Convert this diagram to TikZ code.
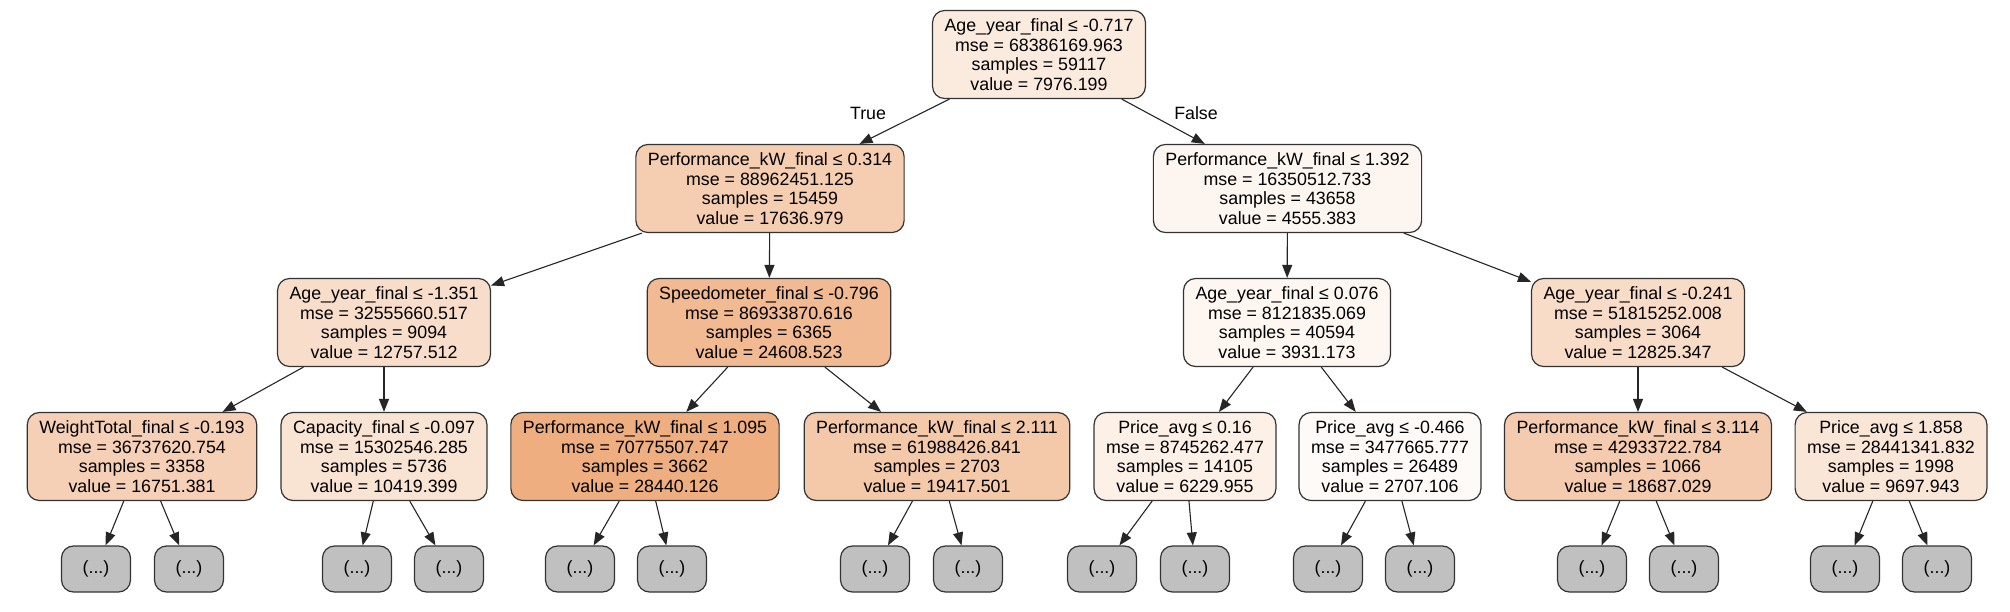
\documentclass[tikz,border=0pt]{standalone}
\usepackage{fontspec}
\setmainfont{Liberation Sans}
\usetikzlibrary{arrows.meta}
\definecolor{base}{RGB}{229,129,57}
\definecolor{leafgray}{RGB}{192,192,192}
\tikzset{
  tnode/.style={draw=black!80, line width=1.2pt, rounded corners=12pt, align=center,
    inner xsep=12pt, inner ysep=0pt, minimum height=88pt,
    font=\fontsize{17.8}{19.7}\selectfont},
  leaf/.style={draw=black!80, line width=1.2pt, rounded corners=12pt, fill=leafgray,
    minimum width=69pt, minimum height=46pt, inner sep=0pt,
    font=\fontsize{17.8}{19.7}\selectfont},
  edge/.style={line width=1.1pt, black!85, -{Triangle[length=13pt,width=10pt]}},
  elabel/.style={font=\fontsize{17.8}{19.7}\selectfont, inner sep=0pt}
}
\begin{document}
\begin{tikzpicture}[x=1pt,y=-1pt]
\useasboundingbox (0,0) rectangle (2010,612);
\fill[white] (0,0) rectangle (2010,612);
% level 0
\node[tnode, fill=base!16!white] (r) at (1039,54.5) {Age\_year\_final ≤ -0.717\\mse = 68386169.963\\samples = 59117\\value = 7976.199};
% level 1
\node[tnode, fill=base!39!white] (a) at (770,188.5) {Performance\_kW\_final ≤ 0.314\\mse = 88962451.125\\samples = 15459\\value = 17636.979};
\node[tnode, fill=base!8!white] (b) at (1287.5,188.5) {Performance\_kW\_final ≤ 1.392\\mse = 16350512.733\\samples = 43658\\value = 4555.383};
% level 2
\node[tnode, fill=base!27!white] (aa) at (384,322.5) {Age\_year\_final ≤ -1.351\\mse = 32555660.517\\samples = 9094\\value = 12757.512};
\node[tnode, fill=base!55!white] (ab) at (769,322.5) {Speedometer\_final ≤ -0.796\\mse = 86933870.616\\samples = 6365\\value = 24608.523};
\node[tnode, fill=base!7!white] (ba) at (1287,322.5) {Age\_year\_final ≤ 0.076\\mse = 8121835.069\\samples = 40594\\value = 3931.173};
\node[tnode, fill=base!28!white] (bb) at (1638,322.5) {Age\_year\_final ≤ -0.241\\mse = 51815252.008\\samples = 3064\\value = 12825.347};
% level 3
\node[tnode, fill=base!37!white] (aaa) at (142,456.5) {WeightTotal\_final ≤ -0.193\\mse = 36737620.754\\samples = 3358\\value = 16751.381};
\node[tnode, fill=base!22!white] (aab) at (384,456.5) {Capacity\_final ≤ -0.097\\mse = 15302546.285\\samples = 5736\\value = 10419.399};
\node[tnode, fill=base!64!white] (aba) at (645,456.5) {Performance\_kW\_final ≤ 1.095\\mse = 70775507.747\\samples = 3662\\value = 28440.126};
\node[tnode, fill=base!43!white] (abb) at (937,456.5) {Performance\_kW\_final ≤ 2.111\\mse = 61988426.841\\samples = 2703\\value = 19417.501};
\node[tnode, fill=base!12!white] (baa) at (1185,456.5) {Price\_avg ≤ 0.16\\mse = 8745262.477\\samples = 14105\\value = 6229.955};
\node[tnode, fill=base!4!white] (bab) at (1390,456.5) {Price\_avg ≤ -0.466\\mse = 3477665.777\\samples = 26489\\value = 2707.106};
\node[tnode, fill=base!41!white] (bba) at (1638,456.5) {Performance\_kW\_final ≤ 3.114\\mse = 42933722.784\\samples = 1066\\value = 18687.029};
\node[tnode, fill=base!20!white] (bbb) at (1891,456.5) {Price\_avg ≤ 1.858\\mse = 28441341.832\\samples = 1998\\value = 9697.943};
% leaves
\node[leaf] (l1) at (96,569) {(...)};
\node[leaf] (l2) at (189,569) {(...)};
\node[leaf] (l3) at (357,569) {(...)};
\node[leaf] (l4) at (449,569) {(...)};
\node[leaf] (l5) at (580,569) {(...)};
\node[leaf] (l6) at (672,569) {(...)};
\node[leaf] (l7) at (875,569) {(...)};
\node[leaf] (l8) at (968,569) {(...)};
\node[leaf] (l9) at (1102,569) {(...)};
\node[leaf] (l10) at (1195,569) {(...)};
\node[leaf] (l11) at (1328,569) {(...)};
\node[leaf] (l12) at (1420,569) {(...)};
\node[leaf] (l13) at (1592,569) {(...)};
\node[leaf] (l14) at (1684,569) {(...)};
\node[leaf] (l15) at (1845,569) {(...)};
\node[leaf] (l16) at (1937,569) {(...)};
% edges
\draw[edge] (r) -- (a);
\draw[edge] (r) -- (b);
\draw[edge] (a) -- (aa);
\draw[edge] (a) -- (ab);
\draw[edge] (b) -- (ba);
\draw[edge] (b) -- (bb);
\draw[edge] (aa) -- (aaa);
\draw[edge] (aa) -- (aab);
\draw[edge] (ab) -- (aba);
\draw[edge] (ab) -- (abb);
\draw[edge] (ba) -- (baa);
\draw[edge] (ba) -- (bab);
\draw[edge] (bb) -- (bba);
\draw[edge] (bb) -- (bbb);
\draw[edge] (aaa) -- (l1);
\draw[edge] (aaa) -- (l2);
\draw[edge] (aab) -- (l3);
\draw[edge] (aab) -- (l4);
\draw[edge] (aba) -- (l5);
\draw[edge] (aba) -- (l6);
\draw[edge] (abb) -- (l7);
\draw[edge] (abb) -- (l8);
\draw[edge] (baa) -- (l9);
\draw[edge] (baa) -- (l10);
\draw[edge] (bab) -- (l11);
\draw[edge] (bab) -- (l12);
\draw[edge] (bba) -- (l13);
\draw[edge] (bba) -- (l14);
\draw[edge] (bbb) -- (l15);
\draw[edge] (bbb) -- (l16);
% edge labels
\node[elabel] (tl) at (868,113) {True};
\node[elabel] (fl) at (1196,113) {False};
\end{tikzpicture}
\end{document}
